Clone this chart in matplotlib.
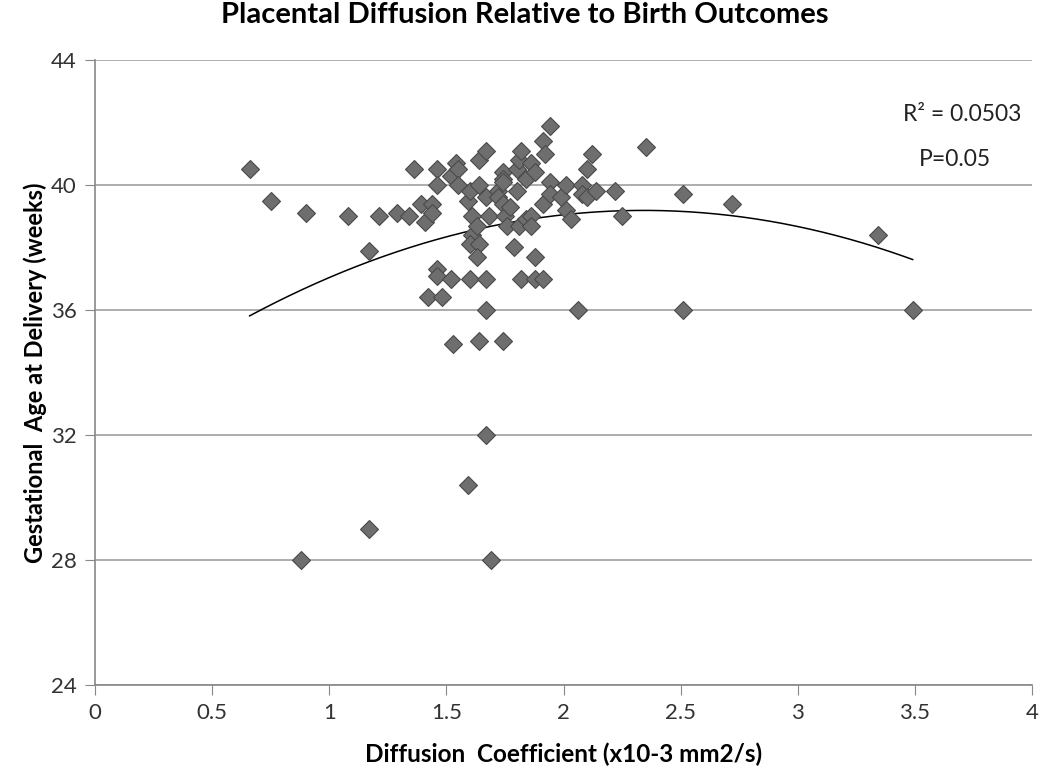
import numpy as np
import matplotlib.pyplot as plt

# diffusion coefficient (x10-3 mm2/s) and gestational age at delivery (weeks)
diff_coef = [
    0.66, 0.75, 0.90, 1.08, 1.17, 1.21, 1.29, 1.34, 1.36, 1.39,
    1.41, 1.44, 1.44, 1.46, 1.46, 1.52, 1.54, 1.55, 1.55, 1.59,
    1.60, 1.61, 1.61, 1.63, 1.64, 1.64, 1.67, 1.67, 1.68, 1.72,
    1.72, 1.74, 1.74, 1.74, 1.74, 1.75, 1.76, 1.77, 1.80, 1.80,
    1.81, 1.81, 1.82, 1.84, 1.84, 1.86, 1.86, 1.86, 1.88, 1.91,
    1.91, 1.92, 1.94, 1.94, 1.94, 1.99, 2.01, 2.01, 2.03, 2.08,
    2.08, 2.10, 2.10, 2.12, 2.14, 2.22, 2.25, 2.35, 2.51, 2.72,
    3.34,
    # lower part of the cloud
    1.60, 1.64, 1.79, 1.88, 1.63, 1.46, 1.46, 1.52, 1.60, 1.67,
    1.82, 1.88, 1.91, 1.42, 1.48, 1.67, 2.06, 2.51, 3.49, 1.53,
    1.64, 1.74, 1.67, 1.59, 1.17, 0.88, 1.69,
]
gest_age = [
    40.5, 39.5, 39.1, 39.0, 37.9, 39.0, 39.1, 39.0, 40.5, 39.4,
    38.8, 39.4, 39.1, 40.5, 40.0, 40.3, 40.7, 40.5, 40.0, 39.5,
    39.8, 39.0, 38.4, 38.7, 40.8, 40.0, 41.1, 39.6, 39.0, 39.8,
    39.6, 40.4, 40.2, 40.1, 39.4, 39.0, 38.7, 39.3, 40.5, 39.8,
    40.8, 38.7, 41.1, 40.2, 38.9, 40.7, 39.0, 38.7, 40.4, 41.4,
    39.4, 41.0, 41.9, 40.1, 39.7, 39.6, 40.0, 39.2, 38.9, 40.0,
    39.7, 40.5, 39.6, 41.0, 39.8, 39.8, 39.0, 41.2, 39.7, 39.4,
    38.4,
    38.1, 38.1, 38.0, 37.7, 37.7, 37.3, 37.1, 37.0, 37.0, 37.0,
    37.0, 37.0, 37.0, 36.4, 36.4, 36.0, 36.0, 36.0, 36.0, 34.9,
    35.0, 35.0, 32.0, 30.4, 29.0, 28.0, 28.0,
]

x = np.array(diff_coef)
y = np.array(gest_age)

# 2nd order polynomial trendline (as in the Excel chart)
coef = np.polyfit(x, y, 2)
xf = np.linspace(x.min(), x.max(), 200)
yf = np.polyval(coef, xf)

plt.rcParams['font.family'] = ['Lato', 'DejaVu Sans']

fig = plt.figure(figsize=(10.5, 7.77), dpi=100)
ax = fig.add_axes([0.0905, 0.1184, 0.8925, 0.8044])

ax.set_axisbelow(True)
ax.grid(axis='y', color='#a0a0a0', linewidth=1.2)
ax.plot(xf, yf, color='black', linewidth=1.1, zorder=2)
ax.plot(x, y, linestyle='none', marker='D', markersize=9.5,
        markerfacecolor='#6e6e6e', markeredgecolor='#4a4a4a',
        markeredgewidth=0.8, zorder=3)

ax.set_xlim(0, 4)
ax.set_ylim(24, 44)
ax.set_xticks(np.arange(0, 4.01, 0.5))
ax.set_xticklabels(['0', '0.5', '1', '1.5', '2', '2.5', '3', '3.5', '4'])
ax.set_yticks(np.arange(24, 45, 4))

for s in ['top', 'right']:
    ax.spines[s].set_visible(False)
for s in ['left', 'bottom']:
    ax.spines[s].set_color('#888888')
    ax.spines[s].set_linewidth(1.2)
ax.tick_params(axis='both', direction='out', length=7, color='#888888',
               labelsize=16, labelcolor='#333333', pad=6)

ax.set_xlabel('Diffusion  Coefficient (x10-3 mm2/s)', fontsize=17.5,
              fontweight='bold', labelpad=14)
ax.set_ylabel('Gestational  Age at Delivery (weeks)', fontsize=17,
              fontweight='bold', labelpad=3)
fig.suptitle('Placental Diffusion Relative to Birth Outcomes', fontsize=21,
             fontweight='bold', y=0.997)

ax.text(0.925, 0.912, 'R² = 0.0503', transform=ax.transAxes,
        ha='center', va='center', fontsize=16.5, color='#222222')
ax.text(0.918, 0.84, 'P=0.05', transform=ax.transAxes,
        ha='center', va='center', fontsize=16.5, color='#222222')

fig.savefig('out.png', dpi=100)
